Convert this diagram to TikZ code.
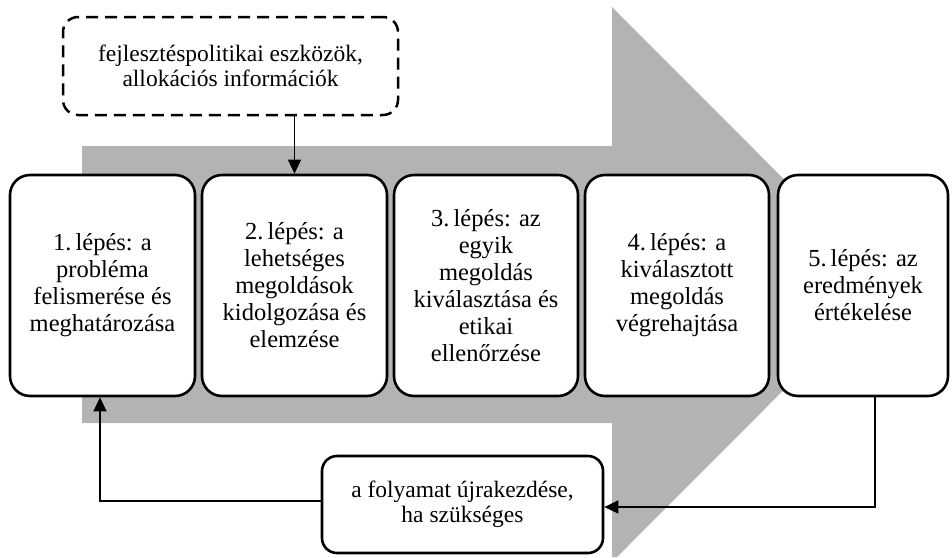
\documentclass[tikz,border=0pt]{standalone}
\usepackage{fontspec}
\setmainfont{Liberation Serif}
\usetikzlibrary{arrows.meta}
\definecolor{shaftgray}{RGB}{179,179,179}
\begin{document}
\begin{tikzpicture}[x=1pt,y=-1pt,
  txt/.style={align=center, font=\fontsize{23.5}{25}\selectfont, inner sep=0pt},
  stepbox/.style={txt, font=\fontsize{24.5}{27}\selectfont, draw=black, line width=2.6pt,
    rounded corners=20pt, fill=white, minimum height=221pt},
  notebox/.style={txt, draw=black, line width=2.6pt, rounded corners=15pt, fill=white},
  conn/.style={draw=black, line width=1.3pt, -{Triangle[length=14pt,width=13pt]}}
]
\useasboundingbox (0,0) rectangle (952,557);
% big gray arrow
\fill[shaftgray] (82,146) -- (612,146) -- (612,7) -- (889,284.5) -- (617,557)
  -- (612,557) -- (612,423) -- (82,423) -- cycle;
% top dashed box
\node[notebox, fill=none, dash pattern=on 12pt off 7pt, line width=2.5pt,
  minimum width=335pt, minimum height=98pt] (inp) at (230.5,66)
  {fejlesztéspolitikai eszközök,\\allokációs információk};
% steps
\node[stepbox, minimum width=185pt] (s1) at (102.5,285.5)
  {1.\,lépés: a\\probléma\\felismerése és\\meghatározása};
\node[stepbox, minimum width=185pt] (s2) at (294.5,285.5)
  {2.\,lépés: a\\lehetséges\\megoldások\\kidolgozása és\\elemzése};
\node[stepbox, minimum width=184pt] (s3) at (486,285.5)
  {3.\,lépés: az\\egyik\\megoldás\\kiválasztása és\\etikai\\ellenőrzése};
\node[stepbox, minimum width=184pt] (s4) at (677,285.5)
  {4.\,lépés: a\\kiválasztott\\megoldás\\végrehajtása};
\node[stepbox, minimum width=170pt] (s5) at (863,285.5)
  {5.\,lépés: az\\eredmények\\értékelése};
% restart box
\node[notebox, minimum width=281pt, minimum height=97pt] (back) at (462.5,504.5)
  {a folyamat újrakezdése,\\ha szükséges};
% connectors
\draw[conn] (inp.south -| s2.north) -- (s2.north);
\draw[conn] ([xshift=12pt]s5.south) |- ([yshift=-2.5pt]back.east);
\draw[conn] ([yshift=3.5pt]back.west) -| ([xshift=-2.5pt]s1.south);
\end{tikzpicture}
\end{document}
